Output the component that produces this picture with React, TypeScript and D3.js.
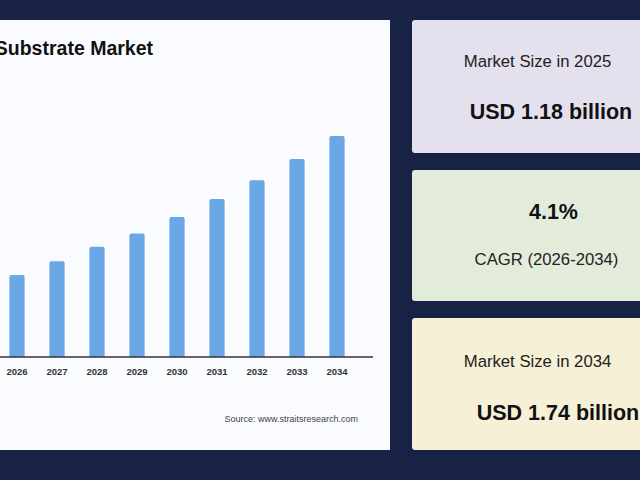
import React from "react";
import * as d3 from "d3";

const years = ["2026", "2027", "2028", "2029", "2030", "2031", "2032", "2033", "2034"];
const values = [1.229, 1.28, 1.333, 1.382, 1.443, 1.509, 1.579, 1.657, 1.742];
const yDomain = [0.926, 1.742];

const titleText = "Substrate Market";
const sourceText = "Source: www.straitsresearch.com";

const cards = [
  { top: "Market Size in 2025", bottom: "USD 1.18 billion", bigFirst: false, fill: "#e4e0ee" },
  { top: "4.1%", bottom: "CAGR (2026-2034)", bigFirst: true, fill: "#e3ecda" },
  { top: "Market Size in 2034", bottom: "USD 1.74 billion", bigFirst: false, fill: "#f6f0d6" },
];

const W = 640;
const H = 480;
const FONT = "'Liberation Sans', Arial, Helvetica, sans-serif";

export default function App() {
  const x = d3
    .scaleBand<string>()
    .domain(years)
    .range([-3, 357])
    .paddingInner(0.62)
    .paddingOuter(0.31);
  const y = d3.scaleLinear().domain(yDomain).range([357, 136]);
  const baseY = 357;

  const barPath = (xs: number, w: number, yt: number, yb: number, r: number) => {
    const p = d3.path();
    p.moveTo(xs, yb);
    p.lineTo(xs, yt + r);
    p.quadraticCurveTo(xs, yt, xs + r, yt);
    p.lineTo(xs + w - r, yt);
    p.quadraticCurveTo(xs + w, yt, xs + w, yt + r);
    p.lineTo(xs + w, yb);
    p.closePath();
    return p.toString();
  };

  const cardBoxes = [
    { y: 20, h: 133, cx1: 537.5, cy1: 61.5, cx2: 551, cy2: 111.5 },
    { y: 170, h: 131, cx1: 553.5, cy1: 212, cx2: 546.5, cy2: 259 },
    { y: 318, h: 132, cx1: 537.5, cy1: 361, cx2: 558, cy2: 413 },
  ];

  return (
    <svg
      width={W}
      height={H}
      style={{ position: "fixed", left: 0, top: 0, display: "block" }}
      fontFamily={FONT}
    >
      <rect x={0} y={0} width={W} height={H} fill="#172244" />
      {/* chart panel */}
      <rect x={-20} y={20} width={410} height={430} fill="#f9fbfe" />
      <text x={153} y={55} textAnchor="end" fontSize={19.5} fontWeight="bold" fill="#111">
        {titleText}
      </text>
      {years.map((yr, i) => (
        <path
          key={yr}
          d={barPath(x(yr)!, x.bandwidth(), y(values[i]), baseY, 2)}
          fill="#6aa7e5"
        />
      ))}
      <line x1={-10} x2={373} y1={baseY} y2={baseY} stroke="#333" strokeWidth={1.6} />
      {years.map((yr) => (
        <text
          key={"t" + yr}
          x={x(yr)! + x.bandwidth() / 2}
          y={371}
          textAnchor="middle"
          dominantBaseline="central"
          fontSize={9.5}
          fontWeight="bold"
          fill="#333"
        >
          {yr}
        </text>
      ))}
      <text x={358} y={419} textAnchor="end" dominantBaseline="central" fontSize={9} fill="#444">
        {sourceText}
      </text>
      {/* cards */}
      {cards.map((c, i) => {
        const b = cardBoxes[i];
        const big = { fontSize: 21.5, fontWeight: "bold" as const, fill: "#111" };
        const small = { fontSize: 16.7, fontWeight: "normal" as const, fill: "#222" };
        const s1 = c.bigFirst ? big : small;
        const s2 = c.bigFirst ? small : big;
        return (
          <g key={"c" + i}>
            <rect x={412} y={b.y} width={240} height={b.h} rx={3} fill={c.fill} />
            <text
              x={b.cx1}
              y={b.cy1}
              textAnchor="middle"
              dominantBaseline="central"
              fontSize={s1.fontSize}
              fontWeight={s1.fontWeight}
              fill={s1.fill}
            >
              {c.top}
            </text>
            <text
              x={b.cx2}
              y={b.cy2}
              textAnchor="middle"
              dominantBaseline="central"
              fontSize={s2.fontSize}
              fontWeight={s2.fontWeight}
              fill={s2.fill}
            >
              {c.bottom}
            </text>
          </g>
        );
      })}
    </svg>
  );
}
